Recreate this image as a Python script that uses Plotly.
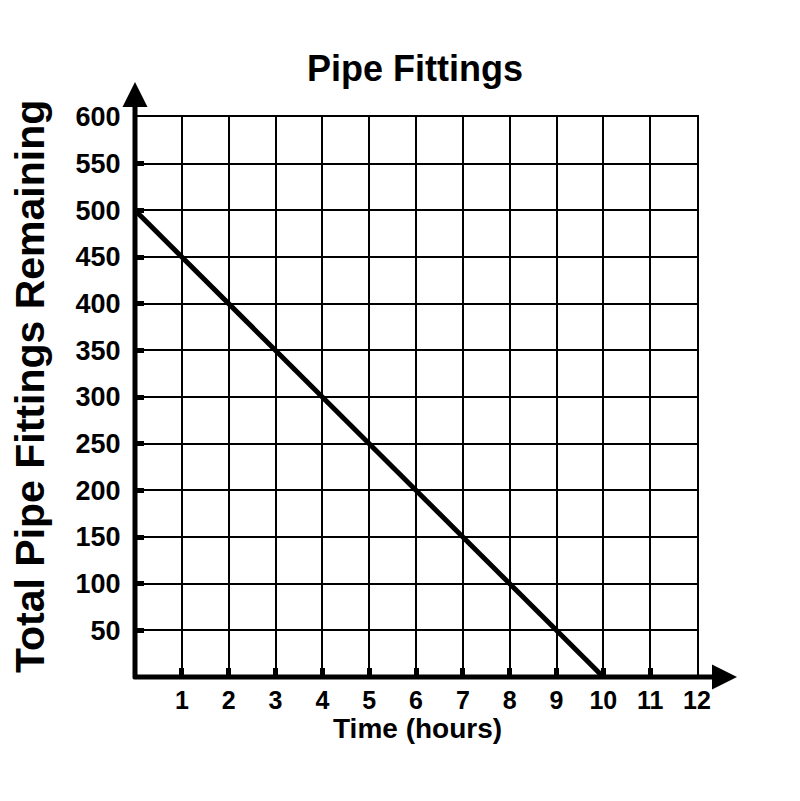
import plotly.graph_objects as go

hours = [0, 10]
remaining = [500, 0]
x_ticks = list(range(1, 13))
y_ticks = list(range(50, 601, 50))

L, R, T, B = 135, 697, 117, 677
W, H = 800, 801

fig = go.Figure()
fig.add_trace(go.Scatter(x=hours, y=remaining, mode="lines",
                         line=dict(color="black", width=5), cliponaxis=False,
                         showlegend=False, hoverinfo="skip"))

font = "Liberation Sans, Arial, sans-serif"
fig.update_layout(
    width=W, height=H,
    margin=dict(l=L, r=W - R, t=T, b=H - B, pad=0),
    paper_bgcolor="white", plot_bgcolor="white",
    font=dict(family=font, color="black"),
    xaxis=dict(range=[0, 12], tickvals=x_ticks, ticktext=[str(v) for v in x_ticks],
               showgrid=True, gridcolor="black", gridwidth=2,
               zeroline=False, showline=True, mirror=True, linecolor="black", linewidth=2,
               ticks="inside", ticklen=9, tickwidth=5, tickcolor="black",
               ticklabelstandoff=0,
               tickfont=dict(size=25, family=font, weight="bold"),
               fixedrange=True),
    yaxis=dict(range=[0, 600], tickvals=y_ticks, ticktext=[str(v) for v in y_ticks],
               showgrid=True, gridcolor="black", gridwidth=2,
               zeroline=False, showline=True, mirror=True, linecolor="black", linewidth=2,
               ticks="inside", ticklen=9, tickwidth=5, tickcolor="black",
               ticklabelstandoff=7,
               tickfont=dict(size=27, family=font, weight="bold"),
               fixedrange=True),
)

def px(xp):
    return (xp - L) / (R - L)

def py(yp):
    return (B - yp) / (B - T)

# axis lines with arrows
fig.add_annotation(x=px(737), y=py(B), ax=(L - 3) - 737, ay=0, xref="paper", yref="paper",
                   axref="pixel", ayref="pixel", text="", showarrow=True,
                   arrowhead=2, arrowsize=1, arrowwidth=5, arrowcolor="black")
fig.add_annotation(x=px(L), y=py(82), ax=0, ay=(B + 3) - 82, xref="paper", yref="paper",
                   axref="pixel", ayref="pixel", text="", showarrow=True,
                   arrowhead=2, arrowsize=1, arrowwidth=5, arrowcolor="black")

fig.add_annotation(text="<b>Pipe Fittings</b>", x=px(415), y=py(68), xref="paper", yref="paper",
                   xanchor="center", yanchor="middle",
                   showarrow=False, font=dict(size=36, family=font, color="black"))
fig.add_annotation(text="<b>Time (hours)</b>", x=px(417), y=py(728), xref="paper", yref="paper",
                   xanchor="center", yanchor="middle",
                   showarrow=False, font=dict(size=28, family=font, color="black"))
fig.add_annotation(text="<b>Total Pipe Fittings Remaining</b>", x=px(30), y=py(387),
                   xref="paper", yref="paper", textangle=-90,
                   xanchor="center", yanchor="middle",
                   showarrow=False, font=dict(size=41, family=font, color="black"))

fig.write_html("out.html")
